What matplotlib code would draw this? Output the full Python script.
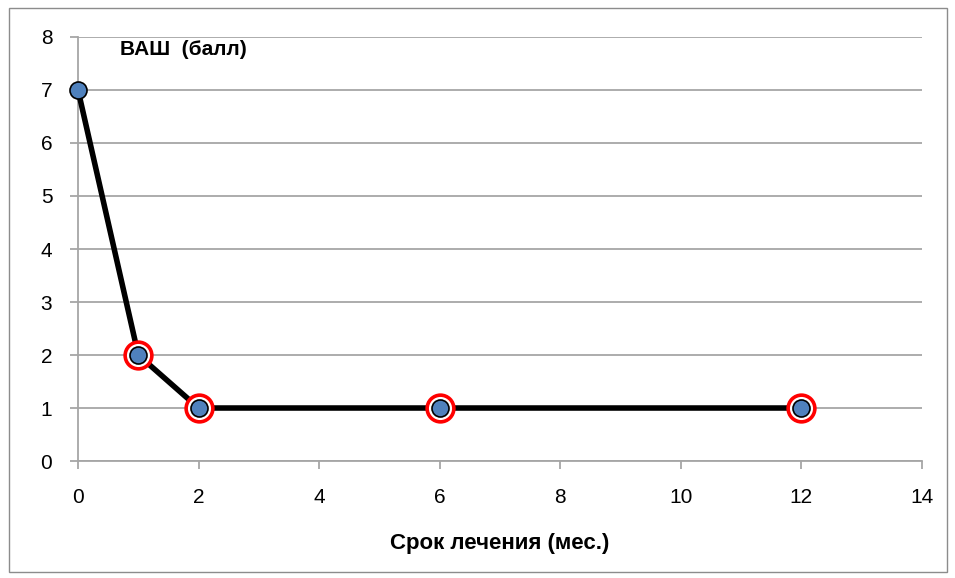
import matplotlib
matplotlib.use("Agg")
import matplotlib.pyplot as plt
from matplotlib.patches import Rectangle

plt.rcParams['font.family'] = ['Liberation Sans', 'DejaVu Sans']

# months of treatment vs. VAS score
months = [0, 1, 2, 6, 12]
vas = [7, 2, 1, 1, 1]
ringed = [1, 2, 3, 4]  # points circled in red
x_ticks = [0, 2, 4, 6, 8, 10, 12, 14]
y_ticks = [0, 1, 2, 3, 4, 5, 6, 7, 8]

fig = plt.figure(figsize=(9.55, 5.78), dpi=100)
ax = fig.add_axes([0.0817, 0.2024, 0.8837, 0.7336])

# outer chart border
fig.patches.append(Rectangle((9 / 955, 1 - 572 / 578), 938 / 955, 564 / 578,
                             transform=fig.transFigure, fill=False,
                             edgecolor='#8c8c8c', linewidth=1.0))

grid_c = '#a6a6a6'
ax.set_xlim(0, 14)
ax.set_ylim(0, 8)
ax.set_xticks(x_ticks)
ax.set_yticks(y_ticks)
ax.yaxis.grid(True, color=grid_c, linewidth=1.3)
ax.set_axisbelow(True)
for s in ['top', 'right']:
    ax.spines[s].set_visible(False)
for s in ['left', 'bottom']:
    ax.spines[s].set_color(grid_c)
    ax.spines[s].set_linewidth(1.3)
ax.tick_params(axis='both', direction='out', length=5.5, width=1.3,
               color=grid_c, labelsize=15, labelcolor='black')
ax.tick_params(axis='x', pad=14)
ax.tick_params(axis='y', pad=13)

ax.plot(months, vas, color='black', linewidth=4, zorder=3, clip_on=False)
ax.scatter([months[i] for i in ringed], [vas[i] for i in ringed], s=370,
           facecolor='white', edgecolor='#ff0000', linewidth=2.6, zorder=4,
           clip_on=False)
ax.scatter(months, vas, s=150, facecolor='#4f81bd', edgecolor='black',
           linewidth=1.2, zorder=5, clip_on=False)

ax.text(0.7, 7.76, 'ВАШ  (балл)', fontsize=15, fontweight='bold',
        va='center', ha='left')
ax.set_xlabel('Срок лечения (мес.)', fontsize=16, fontweight='bold',
              labelpad=19)

fig.savefig('out.png', dpi=100)
